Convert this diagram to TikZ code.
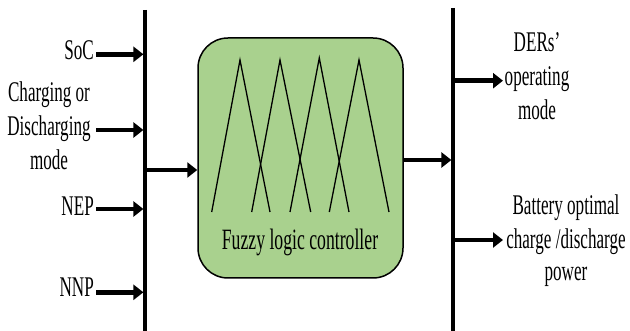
\documentclass[tikz,border=0pt]{standalone}
\usepackage{fontspec}
\setmainfont{Liberation Serif}[FakeStretch=0.6]
\usetikzlibrary{arrows.meta}
\definecolor{flcgreen}{RGB}{169,209,142}
\begin{document}
\begin{tikzpicture}[x=1pt,y=-1pt,
  bus/.style={line width=3.6pt},
  sig/.style={line width=4.5pt,-{Triangle[length=10pt,width=15pt]}},
  lbl/.style={inner sep=0pt,font=\fontsize{28.5}{34}\selectfont,align=center},
  mf/.style={line width=1.3pt,line join=miter}]
\useasboundingbox (0,0) rectangle (630,331);

% input and output buses
\coordinate (lbus-top) at (145,10);
\coordinate (lbus-bot) at (145,331);
\coordinate (rbus-top) at (453,8);
\coordinate (rbus-bot) at (453,331);
\draw[bus] (lbus-top) -- (lbus-bot);
\draw[bus] (rbus-top) -- (rbus-bot);

% controller block
\node[draw,line width=1.5pt,fill=flcgreen,rounded corners=30pt,
      minimum width=205pt,minimum height=240pt,inner sep=0pt] (flc) at (300.5,158) {};
\node[lbl,font=\fontsize{29.5}{34}\selectfont,anchor=base] (flclabel) at (300,249.3) {Fuzzy logic controller};

% membership functions
\draw[mf] (211.7,212) -- (240,60) -- (270,212);
\draw[mf] (251.7,212) -- (280,60) -- (310.7,212);
\draw[mf] (290,212) -- (319.3,58) -- (349,212);
\draw[mf] (329.3,212) -- (359,60) -- (389,212);

% inputs (multi-line labels are placed by the baseline of their last line)
\node[lbl,anchor=base east] (soc) at (94,59.3) {SoC};
\node[lbl,anchor=base] (mode) at (49,170) {Charging or\\Discharging\\mode};
\node[lbl,anchor=base east] (nep) at (94,215.7) {NEP};
\node[lbl,anchor=base east] (nnp) at (94,296.7) {NNP};

\coordinate (soc-a) at (96,54.3);
\coordinate (mode-a) at (96,130);
\coordinate (nep-a) at (96,209);
\coordinate (nnp-a) at (96,292.3);
\draw[sig] (soc-a) -- ([xshift=-1.6pt]soc-a -| lbus-top);
\draw[sig] (mode-a) -- ([xshift=-1.6pt]mode-a -| lbus-top);
\draw[sig] (nep-a) -- ([xshift=-1.6pt]nep-a -| lbus-top);
\draw[sig] (nnp-a) -- ([xshift=-1.6pt]nnp-a -| lbus-top);

% bus to controller, controller to bus
\coordinate (lbus-out) at (145,170);
\draw[sig] (lbus-out) -- (lbus-out -| flc.west);
\coordinate (flc-out) at (403,160);
\draw[sig] (flc-out) -- ([xshift=-1.6pt]flc-out -| rbus-top);

% outputs
\node[lbl,anchor=base] (ders) at (537,120) {DERs’\\operating\\mode};
\node[lbl,font=\fontsize{28.5}{33}\selectfont,anchor=base] (batt) at (566,281) {Battery optimal\\charge /discharge\\power};
\coordinate (ders-a) at (453,80.7);
\coordinate (batt-a) at (453,240);
\draw[sig] (ders-a) -- ++(50,0);
\draw[sig] (batt-a) -- ++(50,0);
\end{tikzpicture}
\end{document}
